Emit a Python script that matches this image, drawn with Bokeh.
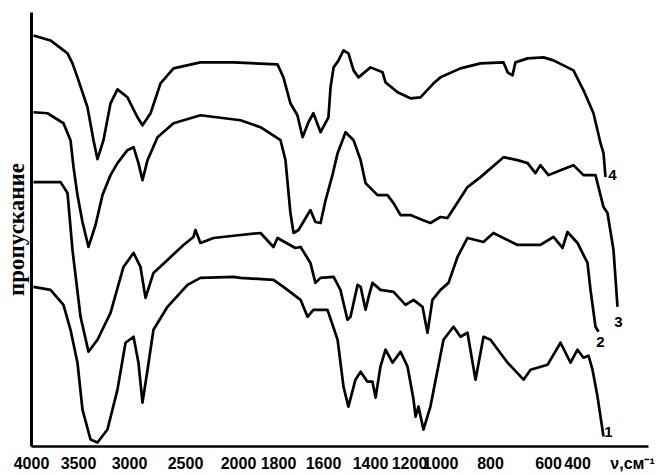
import numpy as np
from bokeh.plotting import figure
from bokeh.models import Range1d, FixedTicker
from bokeh.embed import file_html
from bokeh.resources import INLINE
from bokeh.core.properties import value

# ---- axis definition (non-uniform wavenumber scale, as printed) ----
TICK_WN = [4000, 3500, 3000, 2500, 2000, 1800, 1600, 1400, 1200, 1000, 800, 600, 400]
TICK_LABELS = [str(t) for t in TICK_WN]
TICK_POS = [0, 47, 98, 154, 207, 247, 292, 339, 378, 409, 459, 517, 546]
END_WN, END_POS = 200, 596          # extrapolation anchor beyond the last label
X_LABEL = "ν,см⁻¹"
X_LABEL_POS = 601
Y_LABEL = "пропускание"

# ---- spectra: wavenumber (cm-1) and transmission (arbitrary, offset curves) ----
wn1 = [3979, 3798, 3660, 3585, 3511, 3461, 3382, 3314, 3216, 3118, 3039, 2964, 2920, 2884, 2839,
       2786, 2661, 2481, 2359, 2047, 1990, 1825, 1778, 1702, 1671, 1645, 1583, 1540, 1515, 1494,
       1464, 1442, 1413, 1390, 1374, 1349, 1323, 1287, 1246, 1210, 1174, 1161, 1142, 1110, 1065,
       988, 948, 920, 892, 860, 828, 800, 741, 686, 662, 603, 517, 448, 400, 376, 356, 340, 320, 296]
t1 = [160, 157, 142, 117, 84, 37, 7, 4, 17, 57, 104, 110, 84, 44, 77,
      117, 140, 162, 169, 170, 169, 167, 160, 147, 130, 137, 137, 107, 60, 40,
      67, 75, 65, 65, 49, 80, 97, 84, 95, 80, 47, 30, 40, 17, 40,
      107, 120, 110, 114, 67, 110, 107, 84, 67, 77, 82, 104, 84, 97, 89, 91, 77, 50, 10]

wn2 = [3979, 3691, 3617, 3564, 3480, 3402, 3314, 3186, 3059, 2964, 2902, 2857, 2786, 2661, 2518,
       2425, 2406, 2359, 2236, 1990, 1890, 1825, 1805, 1725, 1702, 1658, 1636, 1613, 1557, 1528,
       1498, 1485, 1455, 1442, 1421, 1408, 1390, 1349, 1282, 1220, 1174, 1116, 1084, 1052, 1000,
       968, 932, 892, 828, 790, 707, 628, 566, 503, 469, 400, 360, 348, 328, 316]
t2 = [265, 265, 254, 197, 130, 95, 107, 134, 180, 194, 180, 149, 174, 187, 202,
      210, 217, 204, 209, 212, 214, 200, 209, 199, 200, 184, 164, 169, 170, 157,
      127, 130, 162, 160, 137, 150, 164, 157, 155, 142, 147, 140, 114, 147, 157,
      164, 190, 209, 205, 214, 202, 202, 210, 199, 215, 204, 184, 157, 120, 115]

wn3 = [3979, 3830, 3660, 3585, 3553, 3511, 3461, 3402, 3333, 3265, 3186, 3118, 3020, 2964, 2920,
       2884, 2839, 2750, 2607, 2359, 1990, 1890, 1791, 1769, 1747, 1733, 1711, 1658, 1636, 1613,
       1591, 1562, 1540, 1506, 1472, 1442, 1421, 1364, 1313, 1282, 1246, 1194, 1116, 1065, 1000,
       972, 892, 840, 755, 707, 672, 645, 628, 600, 517, 428, 376, 328, 296, 280, 256, 240]
t3 = [335, 334, 324, 307, 280, 252, 225, 200, 222, 252, 272, 284, 297, 300, 284,
      267, 287, 310, 324, 332, 327, 320, 307, 287, 234, 214, 217, 237, 225, 224,
      247, 272, 294, 315, 307, 287, 264, 252, 252, 244, 232, 232, 227, 224, 230,
      229, 260, 270, 290, 287, 284, 274, 282, 272, 277, 282, 272, 272, 240, 234, 197, 140]

wn4 = [3979, 3798, 3617, 3564, 3511, 3412, 3353, 3314, 3255, 3186, 3118, 3020, 2929, 2884, 2812,
       2723, 2607, 2359, 2047, 1805, 1778, 1747, 1716, 1693, 1667, 1645, 1613, 1579, 1570, 1557,
       1536, 1515, 1494, 1472, 1451, 1400, 1338, 1323, 1261, 1194, 1129, 1045, 1000, 920, 840,
       755, 741, 724, 714, 672, 617, 566, 469, 428, 376, 336, 308, 296, 288]
t4 = [412, 407, 394, 384, 370, 340, 307, 288, 307, 344, 358, 350, 330, 322, 334,
      364, 379, 385, 385, 383, 370, 344, 332, 310, 325, 334, 315, 330, 360, 380,
      387, 397, 394, 377, 370, 380, 375, 365, 355, 349, 350, 364, 370, 379, 384,
      385, 375, 372, 385, 389, 390, 387, 380, 377, 357, 334, 304, 294, 270]

CURVE_NAMES = ["1", "2", "3", "4"]
NAME_WN = [276, 308, 236, 260]
NAME_T = [15, 105, 125, 272]

ANCHOR_WN = np.array(TICK_WN + [END_WN], dtype=float)
ANCHOR_POS = np.array(TICK_POS + [END_POS], dtype=float)


def to_pos(wn):
    return np.interp(-np.asarray(wn, dtype=float), -ANCHOR_WN, ANCHOR_POS)


p = figure(width=660, height=474, output_backend="svg", toolbar_location=None,
           x_range=Range1d(0, 617), y_range=Range1d(0, 435),
           min_border_left=31, min_border_right=12, min_border_top=12, min_border_bottom=27)
p.outline_line_color = None
p.grid.visible = False
p.background_fill_color = "white"

for wn, t in [(wn1, t1), (wn2, t2), (wn3, t3), (wn4, t4)]:
    p.line(to_pos(wn), t, line_color="black", line_width=2.7, line_join="round")

p.text(x=to_pos(NAME_WN), y=NAME_T, text=CURVE_NAMES, text_color="black",
       text_font=value("Liberation Sans"), text_font_size="15px", text_font_style="bold",
       text_align="center", text_baseline="middle")

xa = p.xaxis[0]
xa.ticker = FixedTicker(ticks=TICK_POS + [X_LABEL_POS])
overrides = {pos: lab for pos, lab in zip(TICK_POS, TICK_LABELS)}
overrides[X_LABEL_POS] = X_LABEL
xa.major_label_overrides = overrides
xa.axis_line_width = 2.5
xa.axis_line_color = "black"
xa.major_tick_line_color = None
xa.minor_tick_line_color = None
xa.major_tick_out = 0
xa.major_tick_in = 0
xa.major_label_standoff = 8
xa.major_label_text_font = "Liberation Sans"
xa.major_label_text_font_style = "bold"
xa.major_label_text_font_size = "16px"
xa.major_label_text_color = "black"

ya = p.yaxis[0]
ya.ticker = FixedTicker(ticks=[])
ya.axis_line_width = 3
ya.axis_line_color = "black"
ya.major_tick_line_color = None
ya.minor_tick_line_color = None
ya.major_tick_out = 0
ya.major_tick_in = 0
ya.major_label_standoff = 0
ya.axis_label = Y_LABEL
ya.axis_label_standoff = 3
ya.axis_label_text_font = "Liberation Serif"
ya.axis_label_text_font_size = "23px"
ya.axis_label_text_font_style = "bold"
ya.axis_label_text_color = "black"

open("out.html", "w").write(file_html(p, INLINE))
